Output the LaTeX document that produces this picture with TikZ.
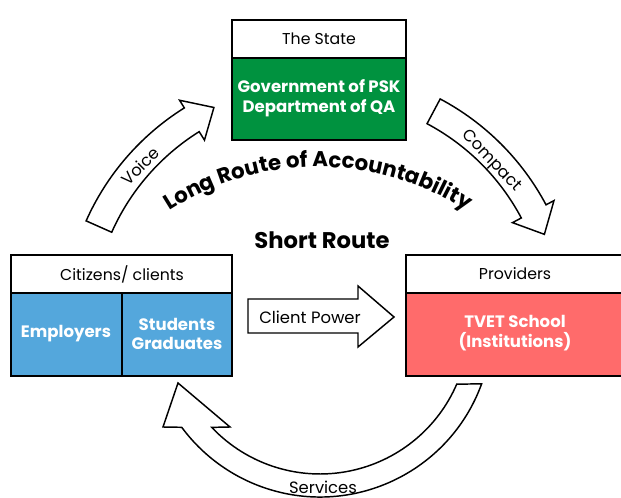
\documentclass[tikz,border=0pt]{standalone}
\usepackage{fontspec}
\setmainfont{Poppins}
\usetikzlibrary{calc,decorations.text}
\definecolor{govgreen}{RGB}{0,146,63}
\definecolor{clientblue}{RGB}{84,167,220}
\definecolor{schoolred}{RGB}{255,107,107}
\tikzset{every picture/.style={line width=0.75pt}}
\tikzset{
  boxline/.style={draw, line width=1.5pt},
  blockarrow/.style={draw, line width=1.1pt, fill=white, line join=miter},
  headtext/.style={inner sep=0.75pt, font=\fontsize{11.8}{13}\selectfont},
  bodytext/.style={inner sep=0.75pt, text=white, align=center, font=\bfseries\fontsize{12.4}{14.8}\selectfont},
  arrowtext/.style={inner sep=0.75pt, font=\fontsize{12.3}{14}\selectfont},
}

\begin{document}
\begin{tikzpicture}[x=0.75pt,y=0.75pt,yscale=-1,xscale=1]
\useasboundingbox (0,0) rectangle (621,498);
%centre of the loop of arrows
\coordinate (loop) at (320,325);
%centre of the curved title
\coordinate (title) at (318,442);

%Shape: Rectangle [id:state]
\draw[boxline, fill=white] (232,20) rectangle (406,58);
\draw[boxline, fill=govgreen] (232,58) rectangle (406,140);
%Shape: Rectangle [id:citizens]
\draw[boxline, fill=white] (11,255) rectangle (232,293);
\draw[boxline, fill=clientblue] (11,293) rectangle (232,376);
\draw[boxline] (122,293) -- (122,376);
%Shape: Rectangle [id:providers]
\draw[boxline, fill=white] (406,255) rectangle (630,293);
\draw[boxline, fill=schoolred] (406,293) rectangle (630,376);

%Shape: Arc Arrow [id:voice]
\draw[blockarrow] ($(loop)+(204:228)$) arc[start angle=204, end angle=238, radius=228] -- ($(loop)+(238:218)$) -- ($(loop)+(244:242)$) -- ($(loop)+(238:265)$) -- ($(loop)+(238:256)$) arc[start angle=238, end angle=204, radius=256] -- cycle;
%Shape: Arc Arrow [id:compact]
\draw[blockarrow] ($(loop)+(298:228)$) arc[start angle=298, end angle=332, radius=228] -- ($(loop)+(332:218)$) -- ($(loop)+(338:242)$) -- ($(loop)+(332:265)$) -- ($(loop)+(332:256)$) arc[start angle=332, end angle=298, radius=256] -- cycle;
%Shape: Arc Arrow [id:services]
\draw[blockarrow] ($(loop)+(20:172)$) arc[start angle=20, end angle=143.5, radius=172] -- (163,427) -- (178,383) -- (230,427) -- ($(loop)+(136.6:149)$) arc[start angle=136.6, end angle=23.4, radius=149] -- cycle;
%Shape: Right Arrow [id:power]
\draw[blockarrow] (248,299) -- (358,299) -- (358,286) -- (394,317) -- (358,347) -- (358,333) -- (248,333) -- cycle;

% Text Node
\node[headtext] (statehead) at (319,39) {The State};
% Text Node
\node[bodytext] (statebody) at (319,98) {Government of PSK\\Department of QA};
% Text Node
\node[headtext] (citizenshead) at (122,274) {Citizens/ clients};
% Text Node
\node[bodytext] (employers) at (66,334) {Employers};
% Text Node
\node[bodytext] (students) at (177,334) {Students\\Graduates};
% Text Node
\node[headtext] (providershead) at (515,274) {Providers};
% Text Node
\node[bodytext] (school) at (515,333) {TVET School\\(Institutions)};
% Text Node
\node[arrowtext] (powertext) at (310,317) {Client Power};
% Text Node
\node[arrowtext, rotate=45] (voicetext) at (140,166) {Voice};
% Text Node
\node[arrowtext, rotate=-46] (compacttext) at (491,161) {Compact};
% Text Node
\node[arrowtext] (servicestext) at (323,487) {Services};
% Text Node
\node[inner sep=0.75pt, font=\bfseries\fontsize{17}{19}\selectfont] (short) at (322,240) {Short Route};
%Curved Text
\path[decorate, decoration={text along path, text align=center, text={|\bfseries\fontsize{16}{18}\selectfont|Long Route of Accountability}}] ($(title)+(-130:275)$) arc[start angle=-130, end angle=-50, radius=275];

\end{tikzpicture}
\end{document}
